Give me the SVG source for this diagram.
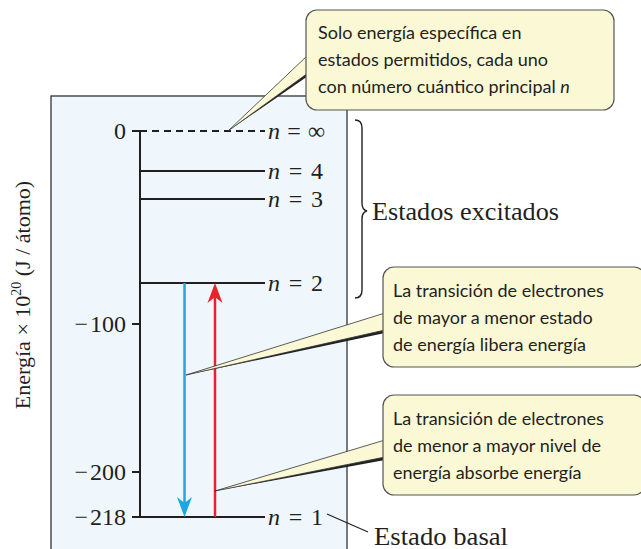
<svg xmlns="http://www.w3.org/2000/svg" width="641" height="549" viewBox="0 0 641 549">
<style>
.serif{font-family:"Liberation Serif","DejaVu Serif",serif;fill:#231f20}
.call{font-family:Lato,"Open Sans",sans-serif;font-size:18px;fill:#231f20}
.lvl{stroke:#231f20;stroke-width:2;fill:none}
.box{fill:#fbf8d6;stroke:#555;stroke-width:1.2}
.ptr{fill:#fbf8d6;stroke:#333;stroke-width:0.8}
.shd{fill:#222}
.num{font-size:24px}
.nl{font-size:24px}
</style>
<rect width="641" height="549" fill="#fff"/>
<g id="panel">
<rect x="51" y="96" width="296" height="470" fill="#eff7fd" stroke="#333" stroke-width="1.3"/>
</g>
<g id="axis">
<line x1="140" y1="131" x2="140" y2="517" class="lvl" stroke-width="1.5"/>
<line x1="132" y1="131" x2="140" y2="131" class="lvl" stroke-width="1.5"/>
<line x1="132" y1="324" x2="140" y2="324" class="lvl" stroke-width="1.5"/>
<line x1="132" y1="472" x2="140" y2="472" class="lvl" stroke-width="1.5"/>
<line x1="132" y1="517" x2="140" y2="517" class="lvl" stroke-width="1.5"/>
<text class="serif num" text-anchor="end" x="126" y="139">0</text>
<text class="serif num" text-anchor="end" x="126" y="332">−<tspan dx="2">100</tspan></text>
<text class="serif num" text-anchor="end" x="126" y="480">−<tspan dx="2">200</tspan></text>
<text class="serif num" text-anchor="end" x="126" y="525">−<tspan dx="2">218</tspan></text>
<text class="serif" font-size="22" text-anchor="middle" transform="translate(30,295) rotate(-90)">Energía × 10<tspan font-size="14" dy="-9">20</tspan><tspan dy="9"> (J / átomo)</tspan></text>
</g>
<g id="levels">
<line x1="140" y1="131" x2="265" y2="131" class="lvl" stroke-width="1.6" stroke-dasharray="7,5"/>
<line x1="140" y1="171" x2="265" y2="171" class="lvl"/>
<line x1="140" y1="199" x2="265" y2="199" class="lvl"/>
<line x1="140" y1="283" x2="265" y2="283" class="lvl"/>
<line x1="140" y1="517" x2="265" y2="517" class="lvl"/>
<text class="serif nl" x="268" y="139" textLength="57" lengthAdjust="spacing"><tspan font-style="italic">n</tspan> = ∞</text>
<text class="serif nl" x="268" y="179" textLength="55" lengthAdjust="spacing"><tspan font-style="italic">n</tspan> = 4</text>
<text class="serif nl" x="268" y="207" textLength="55" lengthAdjust="spacing"><tspan font-style="italic">n</tspan> = 3</text>
<text class="serif nl" x="268" y="291" textLength="55" lengthAdjust="spacing"><tspan font-style="italic">n</tspan> = 2</text>
<text class="serif nl" x="268" y="525" textLength="55" lengthAdjust="spacing"><tspan font-style="italic">n</tspan> = 1</text>
</g>
<g id="connectors">
<line x1="184.5" y1="283" x2="184.5" y2="505" stroke="#1ba8e2" stroke-width="2.5"/>
<path d="M184.5,517 L177,497 L184.5,503 L192,497 Z" fill="#1ba8e2"/>
<line x1="215" y1="517" x2="215" y2="296" stroke="#e8212b" stroke-width="2.5"/>
<path d="M215,283 L207.5,303 L215,297 L222.5,303 Z" fill="#e8212b"/>
<line x1="327" y1="514" x2="368" y2="532" stroke="#231f20" stroke-width="1.2"/>
</g>
<g id="brace">
<path d="M355,120 Q362,120 362,128 L362,203 Q362,210 367,211 Q362,212 362,219 L362,290 Q362,298 355,298" fill="none" stroke="#231f20" stroke-width="1.4"/>
<text class="serif" font-size="25" x="372" y="220" textLength="187" lengthAdjust="spacingAndGlyphs">Estados excitados</text>
</g>
<g id="basal">
<text class="serif" font-size="25" x="374" y="545" textLength="134" lengthAdjust="spacingAndGlyphs">Estado basal</text>
</g>
<g id="callout-top">
<polygon class="shd" points="228,131 308,72 308,76"/>
<polygon class="ptr" points="228,131 308,55 308,73"/>
<rect class="box" x="306" y="10" width="308" height="100" rx="11"/>
<text class="call" x="318" y="39">Solo energía específica en</text>
<text class="call" x="318" y="66">estados permitidos, cada uno</text>
<text class="call" x="318" y="93">con número cuántico principal <tspan font-style="italic">n</tspan></text>
</g>
<g id="callout-emit">
<polygon class="shd" points="186,375 385,329 385,333"/>
<polygon class="ptr" points="186,375 385,313 385,330"/>
<rect class="box" x="383" y="267" width="262" height="100" rx="11"/>
<text class="call" x="393" y="297">La transición de electrones</text>
<text class="call" x="393" y="324">de mayor a menor estado</text>
<text class="call" x="393" y="351">de energía libera energía</text>
</g>
<g id="callout-absorb">
<polygon class="shd" points="215,491 385,456 385,460"/>
<polygon class="ptr" points="215,491 385,440 385,457"/>
<rect class="box" x="383" y="395" width="262" height="100" rx="11"/>
<text class="call" x="393" y="425">La transición de electrones</text>
<text class="call" x="393" y="452">de menor a mayor nivel de</text>
<text class="call" x="393" y="479">energía absorbe energía</text>
</g>
</svg>
